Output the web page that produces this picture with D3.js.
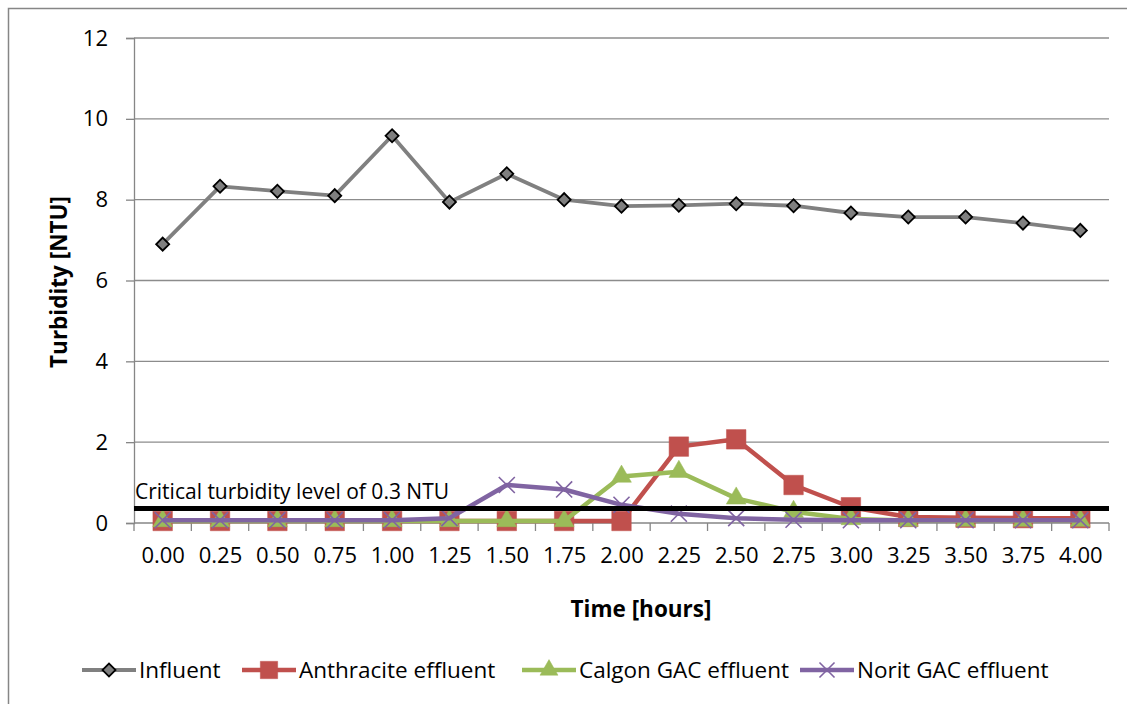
<!DOCTYPE html>
<html><head><meta charset="utf-8">
<script src="https://cdn.jsdelivr.net/npm/d3@7/dist/d3.min.js"></script>
<style>body{margin:0;background:#fff}svg{display:block}text{font-family:"Open Sans",sans-serif;fill:#000}</style>
</head><body><svg id="c" width="1127" height="704"></svg>
<script>
const times = ["0.00","0.25","0.50","0.75","1.00","1.25","1.50","1.75","2.00","2.25","2.50","2.75","3.00","3.25","3.50","3.75","4.00"];
const influent   = [6.90,8.33,8.21,8.10,9.58,7.94,8.64,8.00,7.84,7.86,7.90,7.85,7.67,7.57,7.57,7.42,7.24];
const anthracite = [0.05,0.05,0.05,0.05,0.05,0.05,0.05,0.05,0.05,1.89,2.07,0.94,0.39,0.15,0.13,0.12,0.12];
const calgon     = [0.05,0.05,0.05,0.05,0.05,0.05,0.05,0.05,1.15,1.27,0.61,0.28,0.10,0.06,0.06,0.06,0.06];
const norit      = [0.07,0.07,0.07,0.07,0.07,0.12,0.94,0.83,0.45,0.23,0.12,0.08,0.07,0.07,0.07,0.07,0.07];
const yTicks = [0,2,4,6,8,10,12];
const criticalLevel = 0.36;
const criticalLabel = "Critical turbidity level of 0.3 NTU";
const seriesNames = ["Influent","Anthracite effluent","Calgon GAC effluent","Norit GAC effluent"];

const svg = d3.select("#c");
const L=134, R=1109, T=38, B=523;
const xb = d3.scaleBand().domain(times).range([L,R]);
const x = t => xb(t)+xb.bandwidth()/2;
const y = d3.scaleLinear().domain([0,12]).range([B,T]);
const FONT = "'Open Sans',sans-serif";

// outer border
svg.append("rect").attr("x",8.5).attr("y",8.5).attr("width",1130).attr("height",710)
  .attr("fill","none").attr("stroke","#868686").attr("stroke-width",1.5);

// gridlines
svg.append("g").selectAll("line").data(yTicks.filter(d=>d>0)).join("line")
  .attr("x1",L).attr("x2",R).attr("y1",d=>y(d)).attr("y2",d=>y(d))
  .attr("stroke","#8c8c8c").attr("stroke-width",1.3);

// y axis
const ya = svg.append("g").attr("transform",`translate(${L},0)`)
  .call(d3.axisLeft(y).tickValues(yTicks).tickSize(8).tickPadding(18).tickFormat(d3.format("d")));
ya.select(".domain").attr("stroke","#868686").attr("stroke-width",1.3);
ya.selectAll(".tick line").attr("stroke","#868686").attr("stroke-width",1.3);
ya.selectAll("text").attr("font-size",22).style("font-family",FONT).attr("fill","#000");

// x axis (labels at category centres, ticks at category boundaries)
const xp = d3.scalePoint().domain(times).range([x(times[0]),x(times[times.length-1])]);
const xa = svg.append("g").attr("transform",`translate(0,${B})`)
  .call(d3.axisBottom(xp).tickSize(0).tickPadding(24));
xa.select(".domain").remove();
xa.selectAll("text").attr("font-size",22).style("font-family",FONT).attr("fill","#000");
svg.append("line").attr("x1",L).attr("x2",R).attr("y1",B).attr("y2",B).attr("stroke","#868686").attr("stroke-width",1.3);
const bounds = times.map(t=>xb(t)).concat([xb.range()[1]]);
svg.append("g").selectAll("line").data(bounds).join("line")
  .attr("x1",d=>d).attr("x2",d=>d).attr("y1",B).attr("y2",B+8)
  .attr("stroke","#868686").attr("stroke-width",1.3);

// axis titles
svg.append("text").attr("x",641).attr("y",617).attr("text-anchor","middle")
  .attr("font-size",22.5).attr("font-weight","bold").text("Time [hours]");
svg.append("text").attr("transform","translate(67,282) rotate(-90)").attr("text-anchor","middle")
  .attr("font-size",22.5).attr("font-weight","bold").text("Turbidity [NTU]");

const line = d3.line().x((d,i)=>x(times[i])).y(d=>y(d));

const styles = [
  {data:influent, color:"#808080", w:3.8, sym:d3.symbolSquare, size:85, rot:45, fill:"#7f7f7f", stroke:"#000", sw:1.8},
  {data:anthracite, color:"#C0504D", w:4.5, sym:d3.symbolSquare, size:380, rot:0, fill:"#C0504D", stroke:"#C0504D", sw:0.5},
  {data:calgon, color:"#9BBB59", w:4.5, sym:d3.symbolTriangle, size:170, rot:0, fill:"#9BBB59", stroke:"#9BBB59", sw:0.5},
  {data:norit, color:"#8064A2", w:4.5, sym:d3.symbolTimes, size:170, rot:0, fill:"none", stroke:"#8064A2", sw:1.6}
];

styles.forEach(s=>{
  const g = svg.append("g");
  g.append("path").attr("d",line(s.data)).attr("fill","none").attr("stroke",s.color)
    .attr("stroke-width",s.w).attr("stroke-linejoin","round");
  g.selectAll("path.m").data(s.data).join("path").attr("class","m")
    .attr("d",d3.symbol(s.sym,s.size)())
    .attr("transform",(d,i)=>`translate(${x(times[i])},${y(d)}) rotate(${s.rot})`)
    .attr("fill",s.fill).attr("stroke",s.stroke).attr("stroke-width",s.sw);
});

// critical line
svg.append("line").attr("x1",L).attr("x2",R).attr("y1",y(criticalLevel)).attr("y2",y(criticalLevel))
  .attr("stroke","#000").attr("stroke-width",5);
svg.append("text").attr("x",135).attr("y",499).attr("font-size",21).text(criticalLabel);

// legend
const legX = [82,242,522,800];
const legY = 670;
const legSizes = [85,300,140,150];
seriesNames.forEach((n,i)=>{
  const s = styles[i];
  const g = svg.append("g");
  g.append("line").attr("x1",legX[i]).attr("x2",legX[i]+54).attr("y1",legY).attr("y2",legY)
    .attr("stroke",s.color).attr("stroke-width",s.w);
  g.append("path").attr("d",d3.symbol(s.sym,legSizes[i])())
    .attr("transform",`translate(${legX[i]+27},${legY}) rotate(${s.rot})`)
    .attr("fill",s.fill).attr("stroke",s.stroke).attr("stroke-width",s.sw);
  g.append("text").attr("x",legX[i]+57).attr("y",legY+8).attr("font-size",22.5).text(n);
});
</script></body></html>
